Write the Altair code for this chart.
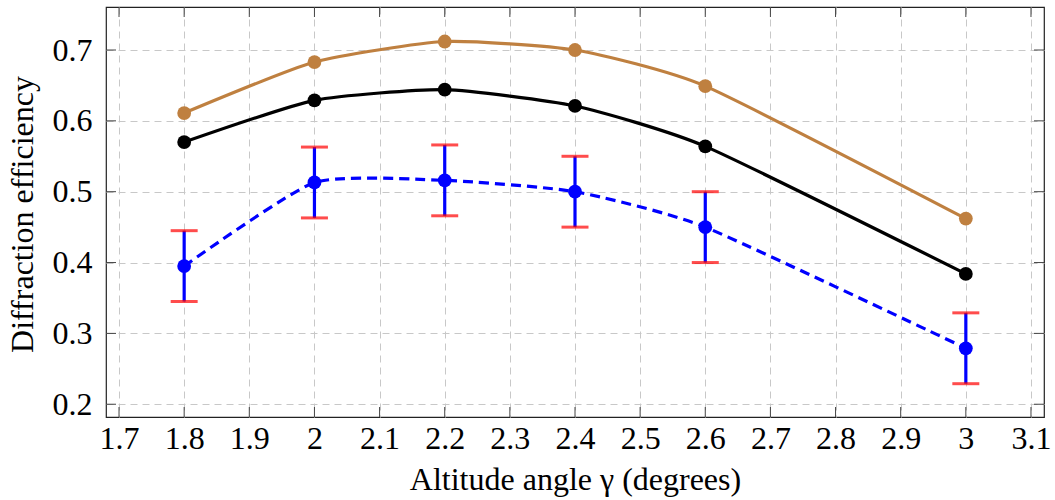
import altair as alt
import pandas as pd

# ---- data ----
angle = [1.8, 2.0, 2.2, 2.4, 2.6, 3.0]
brown_vals = [0.611, 0.683, 0.712, 0.700, 0.649, 0.462]
black_vals = [0.570, 0.629, 0.644, 0.621, 0.564, 0.384]
blue_vals = [0.395, 0.513, 0.516, 0.500, 0.450, 0.279]
blue_err = [0.05, 0.05, 0.05, 0.05, 0.05, 0.05]
x_ticks = [1.7, 1.8, 1.9, 2.0, 2.1, 2.2, 2.3, 2.4, 2.5, 2.6, 2.7, 2.8, 2.9, 3.0, 3.1]
y_ticks = [0.2, 0.3, 0.4, 0.5, 0.6, 0.7]

W, H = 938, 410
FONT = "Liberation Serif"
FS = 32

brown_df = pd.DataFrame({"x": angle, "y": brown_vals})
black_df = pd.DataFrame({"x": angle, "y": black_vals})
blue_df = pd.DataFrame({
    "x": angle,
    "y": blue_vals,
    "lo": [v - e for v, e in zip(blue_vals, blue_err)],
    "hi": [v + e for v, e in zip(blue_vals, blue_err)],
})
xt_df = pd.DataFrame({"x": x_ticks})
yt_df = pd.DataFrame({"y": y_ticks})

xscale = alt.Scale(domain=[1.68, 3.12], nice=False, zero=False)
yscale = alt.Scale(domain=[0.182, 0.7607], nice=False, zero=False)

xaxis = alt.Axis(values=x_ticks, format=".1~f", title="Altitude angle γ (degrees)",
                 grid=True, gridDash=[7, 5], gridColor="#c8c8c8", gridWidth=1,
                 ticks=False, domain=False, labelPadding=6,
                 titleY=72, titleBaseline="alphabetic")
yaxis = alt.Axis(values=y_ticks, format=".1~f", title="Diffraction efficiency",
                 grid=True, gridDash=[7, 5], gridColor="#c8c8c8", gridWidth=1,
                 ticks=False, domain=False, labelPadding=14,
                 titleX=-74, titleY=207, titleBaseline="alphabetic", titleAlign="center")


def X(field="x"):
    return alt.X(f"{field}:Q", scale=xscale, axis=xaxis)


def Y(field="y"):
    return alt.Y(f"{field}:Q", scale=yscale, axis=yaxis)


# inner tick marks on all four sides
tick_col = "#444444"
xt_bottom = alt.Chart(xt_df).mark_rule(color=tick_col, strokeWidth=1).encode(
    x=X(), y=alt.value(H), y2=alt.value(H - 10))
xt_top = alt.Chart(xt_df).mark_rule(color=tick_col, strokeWidth=1).encode(
    x=X(), y=alt.value(0), y2=alt.value(10))
yt_left = alt.Chart(yt_df).mark_rule(color=tick_col, strokeWidth=1).encode(
    y=Y(), x=alt.value(0), x2=alt.value(10))
yt_right = alt.Chart(yt_df).mark_rule(color=tick_col, strokeWidth=1).encode(
    y=Y(), x=alt.value(W), x2=alt.value(W - 10))

brown_c = "#BF8040"
blue_c = "#0000FF"
LW = 3.2
MS = 190
INTERP = dict(interpolate="cardinal", tension=0.45)

brown_line = alt.Chart(brown_df).mark_line(color=brown_c, strokeWidth=LW, **INTERP).encode(x=X(), y=Y())
brown_pts = alt.Chart(brown_df).mark_circle(size=MS, color=brown_c, opacity=1).encode(x=X(), y=Y())
black_line = alt.Chart(black_df).mark_line(color="black", strokeWidth=LW, **INTERP).encode(x=X(), y=Y())
black_pts = alt.Chart(black_df).mark_circle(size=MS, color="black", opacity=1).encode(x=X(), y=Y())
blue_line = alt.Chart(blue_df).mark_line(color=blue_c, strokeWidth=LW, strokeDash=[10, 6], **INTERP).encode(x=X(), y=Y())
err_bar = alt.Chart(blue_df).mark_rule(color=blue_c, strokeWidth=LW).encode(x=X(), y=Y("lo"), y2="hi:Q")
cap_lo = alt.Chart(blue_df).mark_tick(color="#FF0000", orient="horizontal", size=27, thickness=3).encode(x=X(), y=Y("lo"))
cap_hi = alt.Chart(blue_df).mark_tick(color="#FF0000", orient="horizontal", size=27, thickness=3).encode(x=X(), y=Y("hi"))
blue_pts = alt.Chart(blue_df).mark_circle(size=MS, color=blue_c, opacity=1).encode(x=X(), y=Y())

chart = alt.layer(
    xt_bottom, xt_top, yt_left, yt_right,
    brown_line, black_line, blue_line,
    err_bar, cap_lo, cap_hi,
    brown_pts, black_pts, blue_pts,
).properties(
    width=W, height=H,
    autosize=alt.AutoSizeParams(type="none"),
    padding={"left": 106, "top": 7, "right": 11, "bottom": 83},
    background="white",
).configure_view(
    stroke="#222222", strokeWidth=1.2
).configure_axis(
    labelFont=FONT, labelFontSize=FS, labelColor="black",
    titleFont=FONT, titleFontSize=FS, titleColor="black", titleFontWeight="normal",
)

chart.save("out.html", embed_options={"renderer": "svg", "actions": False})
